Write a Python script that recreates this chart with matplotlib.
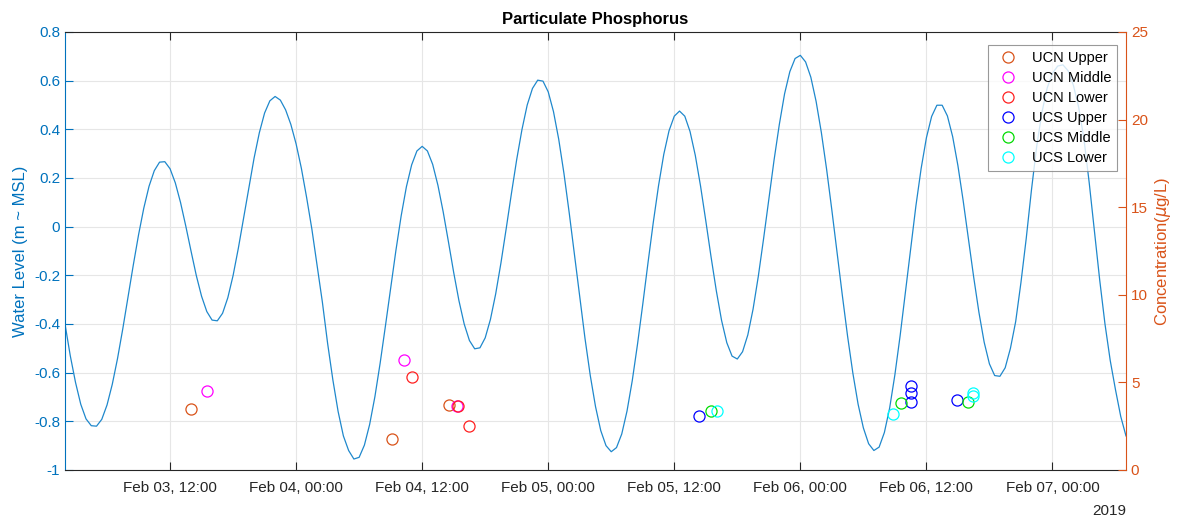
import matplotlib
matplotlib.use("Agg")
import matplotlib.pyplot as plt
import matplotlib.dates as mdates
import pandas as pd

plt.rcParams['font.family'] = ['Liberation Sans', 'DejaVu Sans']

# water level every 30 min from Feb 03 02:00 (m ~ MSL)
level = [
    -0.40, -0.53, -0.64, -0.73, -0.79, -0.818, -0.820, -0.792, -0.733, -0.648,   # 02:00
    -0.542, -0.420, -0.290, -0.158, -0.034, 0.076, 0.166, 0.230, 0.265, 0.267,   # 07:00
    0.238, 0.180, 0.099, 0.002, -0.101, -0.201, -0.286, -0.349, -0.384, -0.387,  # 12:00
    -0.356, -0.292, -0.201, -0.089, 0.035, 0.161, 0.282, 0.386, 0.467, 0.517,    # 17:00
    0.535, 0.52, 0.48, 0.42, 0.34, 0.24, 0.12, -0.01, -0.16, -0.31,               # 22:00
    -0.48, -0.63, -0.76, -0.86, -0.92, -0.955, -0.948, -0.898, -0.813, -0.699,   # Feb 04 03:00
    -0.561, -0.409, -0.252, -0.098, 0.044, 0.164, 0.254, 0.311, 0.33, 0.311,     # 08:00
    0.256, 0.170, 0.061, -0.062, -0.188, -0.304, -0.400, -0.468, -0.502, -0.498, # 13:00
    -0.457, -0.381, -0.276, -0.149, -0.008, 0.137, 0.276, 0.399, 0.500, 0.568,   # 18:00
    0.602, 0.598, 0.554, 0.473, 0.359, 0.218, 0.056, -0.116, -0.290, -0.459,     # 23:00
    -0.611, -0.739, -0.838, -0.900, -0.925, -0.908, -0.852, -0.758, -0.633, -0.483,  # Feb 05 04:00
    -0.319, -0.148, 0.017, 0.168, 0.297, 0.394, 0.454, 0.475, 0.454, 0.391,      # 09:00
    0.293, 0.167, 0.024, -0.124, -0.263, -0.385, -0.477, -0.532, -0.544, -0.514, # 14:00
    -0.445, -0.339, -0.204, -0.050, 0.113, 0.274, 0.420, 0.546, 0.637, 0.691,   # 19:00
    0.704, 0.677, 0.614, 0.515, 0.387, 0.236, 0.068, -0.108, -0.283, -0.451,     # Feb 06 00:00
    -0.602, -0.730, -0.827, -0.892, -0.920, -0.906, -0.846, -0.746, -0.609, -0.448,  # 05:00
    -0.270, -0.089, 0.085, 0.239, 0.365, 0.453, 0.499, 0.499, 0.455, 0.370,     # 10:00
    0.251, 0.107, -0.050, -0.207, -0.352, -0.475, -0.564, -0.612, -0.615, -0.58, # 15:00
    -0.50, -0.39, -0.23, -0.05, 0.15, 0.33, 0.47, 0.57, 0.63, 0.66,             # 20:00
    0.665, 0.64, 0.58, 0.49, 0.36, 0.18, -0.02, -0.22, -0.40, -0.55,            # Feb 07 01:00
    -0.67, -0.78, -0.86,                                                         # 06:00
]
level_time = pd.date_range('2019-02-03 02:00', periods=len(level), freq='30min')

# samples: hours after Feb 03 00:00 and concentration (ug/L)
ucn_upper_h = [14.0, 33.15, 38.6]
ucn_upper_c = [3.48, 1.77, 3.69]
ucn_middle_h = [15.5, 34.25, 39.3]
ucn_middle_c = [4.51, 6.30, 3.65]
ucn_lower_h = [35.0, 39.45, 40.45]
ucn_lower_c = [5.29, 3.63, 2.49]
ucs_upper_h = [62.35, 82.55, 82.55, 82.55, 86.9]
ucs_upper_c = [3.10, 4.81, 4.38, 3.88, 4.00]
ucs_middle_h = [63.45, 81.6, 88.0]
ucs_middle_c = [3.39, 3.81, 3.86]
ucs_lower_h = [64.1, 80.8, 88.45, 88.4]
ucs_lower_c = [3.39, 3.20, 4.40, 4.25]

groups = [
    ('UCN Upper', ucn_upper_h, ucn_upper_c, '#D95319'),
    ('UCN Middle', ucn_middle_h, ucn_middle_c, '#FF00FF'),
    ('UCN Lower', ucn_lower_h, ucn_lower_c, '#FF2020'),
    ('UCS Upper', ucs_upper_h, ucs_upper_c, '#0000FF'),
    ('UCS Middle', ucs_middle_h, ucs_middle_c, '#00DD00'),
    ('UCS Lower', ucs_lower_h, ucs_lower_c, '#00FFFF'),
]

blue = '#0072BD'
orange = '#D95319'
base = pd.Timestamp('2019-02-03 00:00')

fig = plt.figure(figsize=(11.84, 5.2), dpi=100)
ax = fig.add_axes([0.0549, 0.0962, 0.8961, 0.8423])
ax2 = ax.twinx()

ax.plot(level_time, level, color='#1f88cc', lw=0.9)
ax.set_ylim(-1, 0.8)
ax.set_yticks([-1, -0.8, -0.6, -0.4, -0.2, 0, 0.2, 0.4, 0.6, 0.8])
ax.set_yticklabels(['-1', '-0.8', '-0.6', '-0.4', '-0.2', '0', '0.2', '0.4', '0.6', '0.8'])
ax.set_xlim(level_time[0], level_time[-1])
ax.set_xticks(pd.date_range('2019-02-03 12:00', '2019-02-07 00:00', freq='12h'))
ax.xaxis.set_major_formatter(mdates.DateFormatter('%b %d, %H:%M'))
ax.grid(True, color='#e6e6e6', lw=0.8)
ax.set_axisbelow(True)
ax.set_ylabel('Water Level (m ~ MSL)', color=blue, fontsize=12)
ax.tick_params(axis='y', colors=blue, labelsize=11, direction='in', length=6)
ax.tick_params(axis='x', colors='#262626', labelsize=11, direction='in', length=6,
               top=True, pad=8)
ax.spines['left'].set_color(blue)
ax.spines['right'].set_visible(False)
ax.spines['top'].set_color('#262626')
ax.spines['bottom'].set_color('#262626')
ax.set_title('Particulate Phosphorus', fontsize=12, fontweight='bold')
ax.text(1.0, -0.078, '2019', transform=ax.transAxes, ha='right', va='top',
        fontsize=11, color='#262626')

for name, hrs, conc, col in groups:
    t = [base + pd.Timedelta(hours=h) for h in hrs]
    ax2.plot(t, conc, 'o', mfc='none', mec=col, ms=8, mew=0.9, label=name)
ax2.set_ylim(0, 25)
ax2.set_yticks([0, 5, 10, 15, 20, 25])
ax2.set_ylabel('Concentration($\\mu$g/L)', color=orange, fontsize=12)
ax2.tick_params(axis='y', colors=orange, labelsize=11, direction='in', length=6)
ax2.spines['right'].set_color(orange)
ax2.spines['left'].set_visible(False)
ax2.spines['top'].set_visible(False)
ax2.spines['bottom'].set_visible(False)
ax2.set_xlim(level_time[0], level_time[-1])

leg = ax2.legend(loc='upper right', bbox_to_anchor=(0.9915, 0.9703), borderaxespad=0,
                 fontsize=10.5, frameon=True, fancybox=False, edgecolor='#808080',
                 handletextpad=0.6, borderpad=0.4, labelspacing=0.42)
leg.get_frame().set_linewidth(0.8)

fig.savefig('out.png', dpi=100)
